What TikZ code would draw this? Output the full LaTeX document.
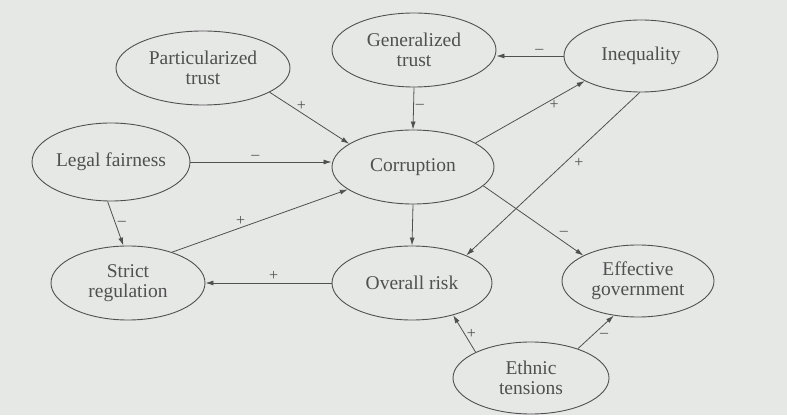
\documentclass[tikz,border=0pt]{standalone}
\usepackage{fontspec}
\setmainfont{Liberation Serif}
\usetikzlibrary{shapes.geometric,arrows.meta}
\definecolor{pagegray}{RGB}{230,232,230}
\definecolor{inkgray}{RGB}{80,80,80}
\tikzset{
  factor/.style={ellipse,draw=inkgray,line width=0.9pt,text=inkgray,align=center,
    inner sep=0pt,minimum height=74pt,font=\fontsize{19.5}{20}\selectfont},
  link/.style={-{Latex[length=8pt,width=5pt]},draw=inkgray,line width=0.8pt},
  sign/.style={text=inkgray,font=\fontsize{16}{16}\selectfont,inner sep=2pt}
}
\begin{document}
\begin{tikzpicture}[x=1pt,y=1pt]
\fill[pagegray] (0,0) rectangle (787,415);
\useasboundingbox (0,0) rectangle (787,415);
% ================= Factors =================
\node[factor,minimum width=174pt] (part)   at (203,347) {Particularized\\trust};
\node[factor,minimum width=164pt] (gen)    at (414,365) {Generalized\\trust};
\node[factor,minimum width=154pt,minimum height=72pt] (ineq) at (641,359) {Inequality};
\node[factor,minimum width=158pt,minimum height=78pt] (legal) at (111,253) {Legal fairness};
\node[factor,minimum width=162pt] (corr)   at (413,248) {Corruption};
\node[factor,minimum width=154pt] (strict) at (128,132) {Strict\\regulation};
\node[factor,minimum width=160pt] (risk)   at (412,132) {Overall risk};
\node[factor,minimum width=152pt,minimum height=72pt] (gov) at (638,134) {Effective\\government};
\node[factor,minimum width=156pt,minimum height=72pt] (ethnic) at (531,37) {Ethnic\\tensions};
% ================= Links =================
\draw[link] (part.-20) -- node[sign,pos=0.4,above] (s1) {+} (corr.160);
\draw[link] (legal.east) -- node[sign,pos=0.46,above] (s2) {--} (corr.west |- legal.east);
\draw[link] (gen.south) -- node[sign,pos=0.45,right] (s3) {--} (corr.north);
\draw[link] (ineq.west) -- node[sign,pos=0.36,above] (s4) {--} (gen.east |- ineq.west);
\draw[link] (corr.21) -- node[sign,pos=0.72,below] (s5) {+} (ineq.204);
\draw[link] (ineq.-92) -- node[sign,pos=0.39,below right] (s6) {+} (risk.27);
\draw[link] (corr.-15) -- node[sign,pos=0.74,above right] (s7) {--} (gov.155);
\draw[link] (corr.south) -- (risk.north);
\draw[link] (legal.-95) -- node[sign,pos=0.5,right] (s8) {--} (strict.97);
\draw[link] (strict.35) -- node[sign,pos=0.39,above] (s9) {+} (corr.199);
\draw[link] (risk.west) -- node[sign,pos=0.46,above] (s10) {+} (strict.east);
\draw[link] (ethnic.155) -- node[sign,pos=0.5,right] (s11) {+} (risk.-38);
\draw[link] (ethnic.32) -- node[sign,pos=0.55,below right] (s12) {--} (gov.235);
\end{tikzpicture}
\end{document}
